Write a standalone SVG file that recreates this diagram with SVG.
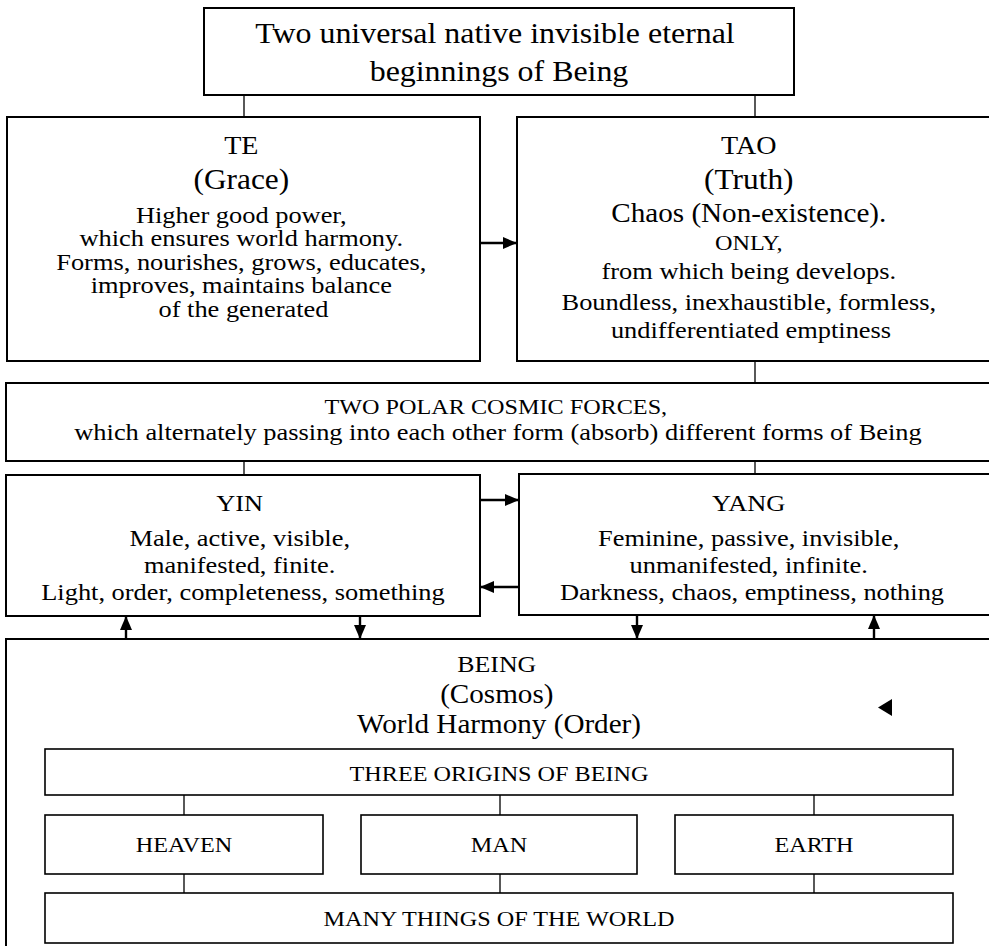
<svg xmlns="http://www.w3.org/2000/svg" width="989" height="946" viewBox="0 0 989 946">
  <style>
    .bx { fill: #fff; stroke: #000; stroke-width: 2; }
    .ib { fill: #fff; stroke: #000; stroke-width: 1.6; }
    .cn { stroke: #000; stroke-width: 1.3; fill: none; }
    .ar { stroke: #000; stroke-width: 2.4; fill: none; }
    text { font-family: "Liberation Serif", "Times New Roman", serif; fill: #000; text-anchor: middle; }
    .t29 { font-size: 29px; }
    .t28 { font-size: 28.5px; }
    .t26 { font-size: 26.5px; }
    .t25 { font-size: 25.5px; }
    .t24 { font-size: 24px; }
    .t23 { font-size: 23.5px; }
    .t22 { font-size: 22px; }
  </style>
  <defs>
    <marker id="ah" viewBox="0 0 14 12" refX="14" refY="6" markerWidth="14" markerHeight="12" orient="auto" markerUnits="userSpaceOnUse">
      <path d="M0,0 L14,6 L0,12 Z" fill="#000"/>
    </marker>
  </defs>

  <rect width="989" height="946" fill="#fff"/>

  <!-- outer frame of the cosmos block (runs past the right and bottom edges) -->
  <g id="being">
    <rect class="bx" x="6" y="639" width="990" height="320"/>
    <text transform="translate(499 0) scale(1.1 1)">
      <tspan class="t23" x="0" y="672">BEING</tspan>
      <tspan class="t26" x="0" y="703">(Cosmos)</tspan>
      <tspan class="t26" x="0" y="733">World Harmony (Order)</tspan>
    </text>
    <polygon points="878,707.5 892,699 892,716" fill="#000"/>
  </g>

  <g id="beginnings">
    <rect class="bx" x="204" y="8" width="590" height="87"/>
    <text class="t29" transform="translate(499 0) scale(1.1 1)">
      <tspan x="0" y="43">Two universal native invisible eternal</tspan>
      <tspan x="0" y="81">beginnings of Being</tspan>
    </text>
  </g>

  <g id="te">
    <rect class="bx" x="7" y="117" width="473" height="244"/>
    <text transform="translate(243.5 0) scale(1.1 1)">
      <tspan class="t25" x="0" y="154">TE</tspan>
      <tspan class="t28" x="0" y="189">(Grace)</tspan>
      <tspan class="t24" x="0" y="223">Higher good power,</tspan>
      <tspan class="t24" x="0" y="246.5">which ensures world harmony.</tspan>
      <tspan class="t24" x="0" y="270">Forms, nourishes, grows, educates,</tspan>
      <tspan class="t24" x="0" y="293.5">improves, maintains balance</tspan>
      <tspan class="t24" x="0" y="317">of the generated</tspan>
    </text>
  </g>

  <g id="tao">
    <rect class="bx" x="517" y="117" width="480" height="244"/>
    <text transform="translate(751 0) scale(1.1 1)">
      <tspan class="t25" x="0" y="154">TAO</tspan>
      <tspan class="t28" x="0" y="189">(Truth)</tspan>
      <tspan class="t26" x="0" y="222">Chaos (Non-existence).</tspan>
      <tspan class="t22" x="0" y="250">ONLY,</tspan>
      <tspan class="t24" x="0" y="279">from which being develops.</tspan>
      <tspan class="t24" x="0" y="310">Boundless, inexhaustible, formless,</tspan>
      <tspan class="t24" x="0" y="338">undifferentiated emptiness</tspan>
    </text>
  </g>

  <g id="polar-forces">
    <rect class="bx" x="6" y="383" width="990" height="78"/>
    <text transform="translate(498 0) scale(1.1 1)">
      <tspan class="t22" x="0" y="414">TWO POLAR COSMIC FORCES,</tspan>
      <tspan class="t24" x="0" y="440">which alternately passing into each other form (absorb) different forms of Being</tspan>
    </text>
  </g>

  <g id="yin">
    <rect class="bx" x="6" y="475" width="474" height="141"/>
    <text class="t24" transform="translate(243 0) scale(1.1 1)">
      <tspan x="0" y="511">YIN</tspan>
      <tspan x="0" y="546">Male, active, visible,</tspan>
      <tspan x="0" y="573">manifested, finite.</tspan>
      <tspan x="0" y="600">Light, order, completeness, something</tspan>
    </text>
  </g>

  <g id="yang">
    <rect class="bx" x="519" y="474" width="480" height="141"/>
    <text class="t24" transform="translate(752 0) scale(1.1 1)">
      <tspan x="0" y="511">YANG</tspan>
      <tspan x="0" y="546">Feminine, passive, invisible,</tspan>
      <tspan x="0" y="573">unmanifested, infinite.</tspan>
      <tspan x="0" y="600">Darkness, chaos, emptiness, nothing</tspan>
    </text>
  </g>

  <g id="three-origins">
    <rect class="ib" x="45" y="749" width="908" height="46"/>
    <text class="t22" transform="translate(499 0) scale(1.1 1)"><tspan x="0" y="781">THREE ORIGINS OF BEING</tspan></text>
  </g>

  <g id="heaven">
    <rect class="ib" x="45" y="815" width="278" height="59"/>
    <text class="t22" transform="translate(184 0) scale(1.1 1)"><tspan x="0" y="852">HEAVEN</tspan></text>
  </g>

  <g id="man">
    <rect class="ib" x="361" y="815" width="276" height="59"/>
    <text class="t22" transform="translate(499 0) scale(1.1 1)"><tspan x="0" y="852">MAN</tspan></text>
  </g>

  <g id="earth">
    <rect class="ib" x="675" y="815" width="278" height="59"/>
    <text class="t22" transform="translate(814 0) scale(1.1 1)"><tspan x="0" y="852">EARTH</tspan></text>
  </g>

  <g id="many-things">
    <rect class="ib" x="45" y="893" width="908" height="50"/>
    <text class="t22" transform="translate(499 0) scale(1.1 1)"><tspan x="0" y="926">MANY THINGS OF THE WORLD</tspan></text>
  </g>

  <g id="connectors">
    <path class="cn" d="M244,95V117 M755,95V117 M755,361V383 M244,461V475 M755,461V474
                        M184,795V815 M500,795V815 M814,795V815
                        M184,874V893 M500,874V893 M814,874V893"/>
    <line class="ar" x1="480" y1="243" x2="517" y2="243" marker-end="url(#ah)"/>
    <line class="ar" x1="480" y1="500" x2="519" y2="500" marker-end="url(#ah)"/>
    <line class="ar" x1="519" y1="587" x2="480" y2="587" marker-end="url(#ah)"/>
    <line class="ar" x1="126" y1="639" x2="126" y2="616" marker-end="url(#ah)"/>
    <line class="ar" x1="360" y1="616" x2="360" y2="639" marker-end="url(#ah)"/>
    <line class="ar" x1="637" y1="615" x2="637" y2="639" marker-end="url(#ah)"/>
    <line class="ar" x1="874" y1="639" x2="874" y2="615" marker-end="url(#ah)"/>
  </g>
</svg>
